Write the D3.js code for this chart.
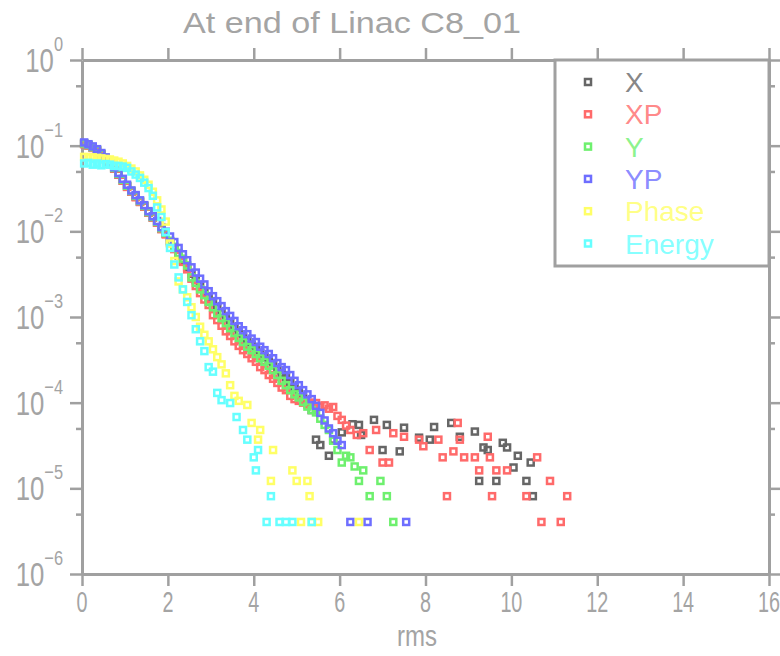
<!DOCTYPE html>
<html>
<head>
<meta charset="utf-8">
<script src="https://cdn.jsdelivr.net/npm/d3@7"></script>
<style>
  body { margin: 0; background: #fff; }
  svg { display: block; font-family: "Liberation Sans", Arial, sans-serif; }
</style>
</head>
<body>
<div id="chart"></div>
<script>
const title = 'At end of Linac C8_01';
const xLabel = 'rms';
const xTicks = [0, 2, 4, 6, 8, 10, 12, 14, 16];
const yTicks = [1, 1e-1, 1e-2, 1e-3, 1e-4, 1e-5, 1e-6];
const yExponents = ['0', '−1', '−2', '−3', '−4', '−5', '−6'];
const yMinor = [5e-1, 5e-2, 5e-3, 5e-4, 5e-5, 5e-6];

const seriesNames = ['X', 'XP', 'Y', 'YP', 'Phase', 'Energy'];
const seriesColors = ['#666666', '#ff6a6a', '#6ef06e', '#6e6eff', '#ffff66', '#66ffff'];

// [rms, fraction]
const dataX = [[0.05,0.106],[0.15,0.101],[0.25,0.095],[0.35,0.088],[0.45,0.079],[0.55,0.071],[0.65,0.062],[0.75,0.054],[0.85,0.046],[0.95,0.039],
  [1.05,0.0335],[1.15,0.029],[1.25,0.0255],[1.35,0.0222],[1.45,0.0195],[1.55,0.0165],[1.65,0.0145],[1.75,0.0126],[1.85,0.0107],[1.95,0.0094],
  [2.05,0.0077],[2.15,0.0064],[2.25,0.0054],[2.35,0.0046],[2.45,0.0038],[2.55,0.0032],[2.65,0.0027],[2.75,0.0023],[2.85,0.00196],[2.95,0.00167],
  [3.05,0.00146],[3.15,0.00128],[3.25,0.00111],[3.35,0.00097],[3.45,0.00085],[3.55,0.00075],[3.65,0.00065],[3.75,0.00058],[3.85,0.00052],[3.95,0.00047],
  [4.05,0.00042],[4.15,0.00038],[4.25,0.00034],[4.35,0.00031],[4.45,0.00028],[4.55,0.00024],[4.65,0.00022],[4.75,0.0002],[4.85,0.00017],[4.95,0.00015],
  [5.05,0.000135],[5.15,0.000112],[5.25,0.000098],[5.35,0.000082],[5.45,0.000037],[5.55,0.000032],[5.75,0.000024],[5.85,0.000037],[6.05,0.000045],
  [6.3,0.000056],[6.45,0.000055],[6.5,0.000042],[6.8,0.000063],[7.0,0.000028],[7.1,0.000055],[7.4,0.000027],[7.5,0.000051],[7.85,0.000039],
  [8.1,0.000037],[8.2,0.000052],[8.6,0.000058],[8.8,0.00004],[9.15,0.000046],[9.25,0.0000122],[9.35,0.00003],[9.45,0.000028],[9.65,0.0000122],
  [9.8,0.000034],[9.9,0.00003],[10.05,0.0000175],[10.15,0.000024],[10.35,0.0000122],[10.45,0.00002],[10.5,0.0000081]];

const dataXP = [[0.05,0.104],[0.15,0.1],[0.25,0.094],[0.35,0.087],[0.45,0.078],[0.55,0.07],[0.65,0.061],[0.75,0.054],[0.85,0.046],[0.95,0.039],
  [1.05,0.033],[1.15,0.029],[1.25,0.025],[1.35,0.022],[1.45,0.0194],[1.55,0.0165],[1.65,0.0144],[1.75,0.0126],[1.85,0.0106],[1.95,0.0092],
  [2.05,0.0073],[2.15,0.0062],[2.25,0.0052],[2.35,0.0044],[2.45,0.0036],[2.55,0.0028],[2.65,0.0023],[2.75,0.0019],[2.85,0.0016],[2.95,0.00138],
  [3.05,0.00105],[3.15,0.00092],[3.25,0.00079],[3.35,0.00068],[3.45,0.0006],[3.55,0.00052],[3.65,0.00046],[3.75,0.00041],[3.85,0.00037],[3.95,0.00033],
  [4.05,0.0003],[4.15,0.00026],[4.25,0.00024],[4.35,0.00021],[4.45,0.00019],[4.55,0.00017],[4.65,0.00015],[4.75,0.00014],[4.85,0.00012],[4.95,0.00011],
  [5.05,0.000105],[5.15,0.0001],[5.25,0.000095],[5.35,0.0001],[5.45,0.000099],[5.55,0.00009],[5.65,0.000093],[5.75,0.000085],[5.85,0.000089],[5.95,0.00007],
  [6.05,0.000063],[6.15,0.000054],[6.25,0.000048],[6.4,0.000042],[6.55,0.000044],[6.7,0.000028],[6.85,0.000048],[7.0,0.00002],[7.15,0.00002],
  [7.25,0.000044],[7.5,0.00004],[7.85,0.000037],[7.95,0.000031],[8.3,0.000037],[8.4,0.000023],[8.5,0.0000081],[8.65,0.000027],[8.75,0.000058],
  [8.8,0.000037],[8.9,0.000023],[9.15,0.000023],[9.25,0.0000162],[9.45,0.00004],[9.5,0.000023],[9.55,0.0000081],[9.65,0.0000162],[9.9,0.0000162],
  [10.35,0.0000081],[10.6,0.000023],[10.7,0.00000405],[10.9,0.0000122],[11.15,0.00000405],[11.3,0.0000081]];

const dataY = [[0.05,0.106],[0.15,0.102],[0.25,0.096],[0.35,0.089],[0.45,0.08],[0.55,0.072],[0.65,0.063],[0.75,0.055],[0.85,0.047],[0.95,0.04],
  [1.05,0.034],[1.15,0.0296],[1.25,0.0259],[1.35,0.0226],[1.45,0.0198],[1.55,0.0168],[1.65,0.0147],[1.75,0.0129],[1.85,0.0109],[1.95,0.0096],
  [2.05,0.0077],[2.15,0.0066],[2.25,0.0056],[2.35,0.0048],[2.45,0.004],[2.55,0.0029],[2.65,0.0025],[2.75,0.0021],[2.85,0.0018],[2.95,0.0015],
  [3.05,0.0013],[3.15,0.0011],[3.25,0.00097],[3.35,0.00085],[3.45,0.00074],[3.55,0.00065],[3.65,0.00057],[3.75,0.00051],[3.85,0.00045],[3.95,0.00041],
  [4.05,0.00037],[4.15,0.00033],[4.25,0.0003],[4.35,0.00027],[4.45,0.00024],[4.55,0.00021],[4.65,0.00018],[4.75,0.00016],[4.85,0.00014],[4.95,0.000125],
  [5.05,0.000115],[5.15,0.000102],[5.25,0.00009],[5.35,0.000082],[5.45,0.000077],[5.55,0.000065],[5.65,0.000055],[5.75,0.000048],[5.85,0.000036],
  [5.95,0.000028],[6.05,0.00002],[6.15,0.000024],[6.25,0.000023],[6.35,0.000018],[6.45,0.0000122],[6.55,0.0000162],[6.7,0.0000081],
  [6.95,0.0000122],[7.1,0.0000081],[7.25,0.00000405]];

const dataYP = [[0.05,0.109],[0.15,0.104],[0.25,0.098],[0.35,0.091],[0.45,0.082],[0.55,0.073],[0.65,0.064],[0.75,0.056],[0.85,0.048],[0.95,0.041],
  [1.05,0.035],[1.15,0.03],[1.25,0.0265],[1.35,0.023],[1.45,0.0202],[1.55,0.0172],[1.65,0.015],[1.75,0.0132],[1.85,0.0112],[1.95,0.0099],
  [2.05,0.0087],[2.15,0.0075],[2.25,0.0064],[2.35,0.0054],[2.45,0.0046],[2.55,0.0038],[2.65,0.0033],[2.75,0.0028],[2.85,0.0024],[2.95,0.002],
  [3.05,0.00175],[3.15,0.00153],[3.25,0.00134],[3.35,0.00117],[3.45,0.00103],[3.55,0.0009],[3.65,0.00078],[3.75,0.0007],[3.85,0.00063],[3.95,0.00056],
  [4.05,0.00051],[4.15,0.00045],[4.25,0.00041],[4.35,0.00037],[4.45,0.00033],[4.55,0.00029],[4.65,0.00026],[4.75,0.00024],[4.85,0.00021],[4.95,0.00018],
  [5.05,0.00016],[5.15,0.00014],[5.25,0.000125],[5.35,0.00011],[5.45,0.000092],[5.55,0.000076],[5.65,0.000062],[5.75,0.00005],[5.85,0.000044],
  [5.95,0.000036],[6.05,0.000032],[6.25,0.00000405],[6.65,0.00000405],[7.55,0.00000405]];

const dataPhase = [[0.05,0.074],[0.15,0.073],[0.25,0.073],[0.35,0.072],[0.45,0.071],[0.55,0.07],[0.65,0.069],[0.75,0.067],[0.85,0.065],[0.95,0.062],
  [1.05,0.058],[1.15,0.054],[1.25,0.05],[1.35,0.045],[1.45,0.04],[1.55,0.035],[1.65,0.029],[1.75,0.023],[1.85,0.018],[1.95,0.013],
  [2.05,0.0072],[2.15,0.0045],[2.25,0.0026],[2.35,0.0021],[2.45,0.0017],[2.55,0.0013],[2.65,0.001],[2.75,0.00077],[2.85,0.00062],[2.95,0.00052],
  [3.05,0.00042],[3.15,0.00034],[3.25,0.00028],[3.35,0.00022],[3.45,0.00016],[3.55,0.00012],[3.65,0.000105],[3.85,0.000094],[3.95,0.000058],
  [4.1,0.000037],[4.15,0.000048],[4.4,0.0000122],[4.45,0.000028],[4.9,0.0000162],[5.0,0.0000122],[5.1,0.00000405],[5.25,0.0000122],
  [5.3,0.0000081],[5.35,0.00000405],[5.5,0.00000405],[6.45,0.00000405]];

const dataEnergy = [[0.05,0.062],[0.15,0.063],[0.25,0.06],[0.35,0.062],[0.45,0.059],[0.55,0.061],[0.65,0.06],[0.75,0.058],[0.85,0.058],[0.95,0.057],
  [1.05,0.055],[1.15,0.05],[1.25,0.046],[1.35,0.042],[1.45,0.037],[1.55,0.032],[1.65,0.026],[1.75,0.019],[1.85,0.0147],[1.95,0.0098],
  [2.05,0.0064],[2.15,0.0041],[2.25,0.0029],[2.35,0.0021],[2.45,0.0015],[2.55,0.00105],[2.65,0.00072],[2.75,0.00052],[2.85,0.0004],[2.95,0.00026],
  [3.05,0.00023],[3.15,0.00013],[3.25,0.000107],[3.45,0.000099],[3.6,0.000068],[3.75,0.000048],[3.85,0.000037],[4.0,0.000023],[4.05,0.0000162],
  [4.1,0.000028],[4.3,0.00000405],[4.4,0.0000081],[4.6,0.00000405],[4.75,0.00000405],[4.9,0.00000405],[5.35,0.00000405]];

const allSeries = [dataX, dataXP, dataY, dataYP, dataPhase, dataEnergy];

const width = 780;
const height = 656;
const axisColor = '#a0a0a0';
const textColor = '#a4a4a4';

const svg = d3.select('#chart').append('svg')
  .attr('width', width)
  .attr('height', height);

const x = d3.scaleLinear().domain([0, 16]).range([82, 769]);
const y = d3.scaleLog().domain([1e-6, 1]).range([574, 60]);

function styleAxis(g) {
  g.selectAll('path.domain').attr('stroke', axisColor).attr('stroke-width', 3);
  g.selectAll('.tick line').attr('stroke', axisColor).attr('stroke-width', 2.5);
  g.selectAll('.tick text').remove();
}

// frame with outward ticks on all four sides
svg.append('g').attr('transform', `translate(0,${y(1e-6)})`)
  .call(d3.axisBottom(x).tickValues(xTicks).tickSize(12).tickSizeOuter(0).tickFormat(''))
  .call(styleAxis);
svg.append('g').attr('transform', `translate(0,${y(1)})`)
  .call(d3.axisTop(x).tickValues(xTicks).tickSize(12).tickSizeOuter(0).tickFormat(''))
  .call(styleAxis);
svg.append('g').attr('transform', `translate(${x(0)},0)`)
  .call(d3.axisLeft(y).tickValues(yTicks).tickSize(12).tickSizeOuter(0).tickFormat(''))
  .call(styleAxis);
svg.append('g').attr('transform', `translate(${x(16)},0)`)
  .call(d3.axisRight(y).tickValues(yTicks).tickSize(12).tickSizeOuter(0).tickFormat(''))
  .call(styleAxis);
svg.append('g').attr('transform', `translate(${x(0)},0)`)
  .call(d3.axisLeft(y).tickValues(yMinor).tickSize(6).tickSizeOuter(0).tickFormat(''))
  .call(styleAxis)
  .select('path.domain').remove();
svg.append('g').attr('transform', `translate(${x(16)},0)`)
  .call(d3.axisRight(y).tickValues(yMinor).tickSize(6).tickSizeOuter(0).tickFormat(''))
  .call(styleAxis)
  .select('path.domain').remove();

// x tick labels
svg.append('g').selectAll('text')
  .data(xTicks)
  .enter()
  .append('text')
  .attr('x', (d) => x(d))
  .attr('y', 612)
  .attr('text-anchor', 'middle')
  .attr('font-size', 29)
  .attr('fill', textColor)
  .attr('textLength', (d) => String(d).length * 11)
  .attr('lengthAdjust', 'spacingAndGlyphs')
  .text((d) => d);

// y tick labels 10^n, one text each, squeezed horizontally
const yLab = svg.append('g').selectAll('text')
  .data(yTicks)
  .enter()
  .append('text')
  .attr('transform', (d) => `translate(63,${y(d) + 12}) scale(0.78,1)`)
  .attr('text-anchor', 'end')
  .attr('fill', textColor);
yLab.append('tspan')
  .attr('font-size', 33)
  .text('10');
yLab.append('tspan')
  .attr('font-size', 21)
  .attr('dy', -21)
  .text((d, i) => yExponents[i]);

// title and axis label
svg.append('text')
  .attr('x', 183)
  .attr('y', 33)
  .attr('font-size', 29)
  .attr('fill', textColor)
  .attr('textLength', 338)
  .attr('lengthAdjust', 'spacingAndGlyphs')
  .text(title);
svg.append('text')
  .attr('x', 417)
  .attr('y', 646)
  .attr('text-anchor', 'middle')
  .attr('font-size', 30)
  .attr('fill', textColor)
  .attr('textLength', 40)
  .attr('lengthAdjust', 'spacingAndGlyphs')
  .text(xLabel);

// points
const groupPoints = svg.append('g');
allSeries.forEach((series, i) => {
  groupPoints.append('g')
    .selectAll('rect')
    .data(series)
    .enter()
    .append('rect')
    .attr('x', (d) => x(d[0]) - 3)
    .attr('y', (d) => y(d[1]) - 3)
    .attr('width', 6)
    .attr('height', 6)
    .attr('fill', 'none')
    .attr('stroke', seriesColors[i])
    .attr('stroke-width', 2.5);
});

// legend
const legend = svg.append('g');
legend.append('rect')
  .attr('x', 555)
  .attr('y', 60)
  .attr('width', 214)
  .attr('height', 206)
  .attr('fill', '#fff')
  .attr('stroke', axisColor)
  .attr('stroke-width', 3);
const entry = legend.selectAll('.entry')
  .data(seriesNames)
  .enter()
  .append('g')
  .attr('class', 'entry')
  .attr('transform', (d, i) => `translate(0,${82 + i * 32.3})`);
entry.append('rect')
  .attr('x', 585)
  .attr('y', -3)
  .attr('width', 6)
  .attr('height', 6)
  .attr('fill', 'none')
  .attr('stroke', (d, i) => seriesColors[i])
  .attr('stroke-width', 2.5);
entry.append('text')
  .attr('x', 625)
  .attr('y', 10)
  .attr('font-size', 28)
  .attr('fill', (d, i) => seriesColors[i])
  .attr('fill-opacity', 0.8)
  .text((d) => d);
</script>
</body>
</html>
